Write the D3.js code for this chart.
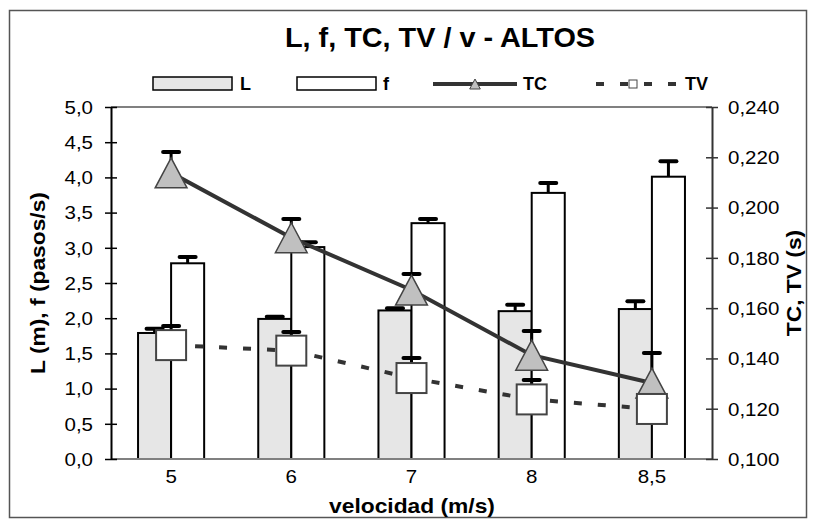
<!DOCTYPE html>
<html><head><meta charset="utf-8">
<script src="https://cdn.jsdelivr.net/npm/d3@7"></script>
<style>body{margin:0;background:#fff} text{font-family:"Liberation Sans",Arial,sans-serif}</style>
</head><body><svg id="c" width="813" height="527"></svg>
<script>
const categories = ["5", "6", "7", "8", "8,5"];
const seriesL = [1.79, 1.99, 2.11, 2.10, 2.13];
const errL = [0.06, 0.03, 0.03, 0.09, 0.11];
const seriesF = [2.78, 3.01, 3.35, 3.78, 4.01];
const errF = [0.09, 0.07, 0.06, 0.14, 0.22];
const seriesTC = [0.2138, 0.1880, 0.1672, 0.1413, 0.1302];
const errTC = [0.0083, 0.0075, 0.0064, 0.0096, 0.0120];
const seriesTV = [0.1453, 0.1431, 0.1322, 0.1237, 0.1199];
const errTV = [0.0076, 0.0074, 0.0080, 0.0077, 0.0080];
const leftTicks = [0, 0.5, 1, 1.5, 2, 2.5, 3, 3.5, 4, 4.5, 5];
const rightTicks = [0.10, 0.12, 0.14, 0.16, 0.18, 0.20, 0.22, 0.24];
const title = "L, f, TC, TV / v - ALTOS";
const xTitle = "velocidad (m/s)";
const yLeftTitle = "L (m), f (pasos/s)";
const yRightTitle = "TC, TV (s)";

const svg = d3.select("#c");
const X0 = 111, X1 = 712, Y0 = 459, Y1 = 107;
const SX = 1.14;

const x = d3.scaleBand().domain(categories).range([X0, X1]).paddingInner(0.45).paddingOuter(0.225);
const xs = d3.scaleBand().domain(["L", "f"]).range([0, x.bandwidth()]);
const yL = d3.scaleLinear().domain([0, 5]).range([Y0, Y1]);
const yR = d3.scaleLinear().domain([0.10, 0.24]).range([Y0, Y1]);
const cx = c => x(c) + x.bandwidth() / 2;

// outer border
svg.append("rect").attr("x", 9.5).attr("y", 10.5).attr("width", 797).attr("height", 507)
  .attr("fill", "none").attr("stroke", "#555").attr("stroke-width", 1.5);

// title
svg.append("text").attr("transform", "translate(440,47) scale(1.03,1)")
  .attr("text-anchor", "middle").attr("font-size", 28).attr("font-weight", "bold").text(title);

// plot top line
svg.append("line").attr("x1", X0).attr("x2", X1).attr("y1", Y1).attr("y2", Y1)
  .attr("stroke", "#808080").attr("stroke-width", 2);

// bars
const barData = [{k: "L", v: seriesL, e: errL, fill: "#e6e6e6"}, {k: "f", v: seriesF, e: errF, fill: "#ffffff"}];
barData.forEach(s => {
  svg.append("g").selectAll("rect").data(categories).join("rect")
    .attr("x", c => x(c) + xs(s.k)).attr("width", xs.bandwidth())
    .attr("y", (c, i) => yL(s.v[i])).attr("height", (c, i) => Y0 - yL(s.v[i]))
    .attr("fill", s.fill).attr("stroke", "#000").attr("stroke-width", 2);
});
function errBar(g, xp, yv, ye) {
  g.append("line").attr("x1", xp).attr("x2", xp).attr("y1", yv).attr("y2", ye)
    .attr("stroke", "#000").attr("stroke-width", 3);
  g.append("line").attr("x1", xp - 8).attr("x2", xp + 8).attr("y1", ye).attr("y2", ye)
    .attr("stroke", "#000").attr("stroke-width", 4).attr("stroke-linecap", "round");
}
const ge = svg.append("g");
barData.forEach(s => {
  categories.forEach((c, i) => {
    const xp = x(c) + xs(s.k) + xs.bandwidth() / 2;
    errBar(ge, xp, yL(s.v[i]), yL(s.v[i] + s.e[i]));
  });
});

// bottom axis line
svg.append("line").attr("x1", X0).attr("x2", X1).attr("y1", Y0).attr("y2", Y0)
  .attr("stroke", "#808080").attr("stroke-width", 2);

// lines
const lineTV = d3.line().x((d, i) => cx(categories[i])).y(d => yR(d));
svg.append("path").attr("d", lineTV(seriesTV)).attr("fill", "none")
  .attr("stroke", "#333").attr("stroke-width", 4).attr("stroke-dasharray", "8,16");
svg.append("path").attr("d", lineTV(seriesTC)).attr("fill", "none")
  .attr("stroke", "#333").attr("stroke-width", 4);

// line error bars
const gle = svg.append("g");
categories.forEach((c, i) => {
  errBar(gle, cx(c), yR(seriesTV[i]), yR(seriesTV[i] + errTV[i]));
  errBar(gle, cx(c), yR(seriesTC[i]), yR(seriesTC[i] + errTC[i]));
});

// markers
const tri = (s) => `M0,${-s * 0.5}L${s * 0.53},${s * 0.5}L${-s * 0.53},${s * 0.5}Z`;
svg.append("g").selectAll("path").data(seriesTC).join("path")
  .attr("transform", (d, i) => `translate(${cx(categories[i])},${yR(d)})`)
  .attr("d", tri(30)).attr("fill", "#c0c0c0").attr("stroke", "#444").attr("stroke-width", 1.5);
svg.append("g").selectAll("rect").data(seriesTV).join("rect")
  .attr("x", (d, i) => cx(categories[i]) - 15).attr("y", d => yR(d) - 15)
  .attr("width", 30).attr("height", 30)
  .attr("fill", "#fff").attr("stroke", "#444").attr("stroke-width", 2);

// axes
const fmtL = d => d3.format(".1f")(d).replace(".", ",");
const fmtR = d => d3.format(".3f")(d).replace(".", ",");
const axL = svg.append("g").attr("transform", `translate(${X0},0)`)
  .call(d3.axisLeft(yL).tickValues(leftTicks).tickFormat(fmtL).tickSizeOuter(0));
axL.select(".domain").attr("stroke", "#000").attr("stroke-width", 2);
axL.selectAll(".tick line").attr("x1", -6).attr("x2", 6).attr("stroke", "#000").attr("stroke-width", 1.5);
axL.selectAll(".tick text").attr("x", -18 / SX).attr("dy", "0.35em")
  .attr("transform", `scale(${SX},1)`).attr("font-size", 18).attr("fill", "#000");

const axR = svg.append("g").attr("transform", `translate(${X1},0)`)
  .call(d3.axisRight(yR).tickValues(rightTicks).tickFormat(fmtR).tickSizeOuter(0));
axR.select(".domain").attr("stroke", "#333").attr("stroke-width", 2);
axR.selectAll(".tick line").attr("x1", -6).attr("x2", 6).attr("stroke", "#333").attr("stroke-width", 1.5);
axR.selectAll(".tick text").attr("x", 16 / SX).attr("dy", "0.35em")
  .attr("transform", `scale(${SX},1)`).attr("font-size", 18).attr("fill", "#000");

const axB = svg.append("g").attr("transform", `translate(0,${Y0})`)
  .call(d3.axisBottom(x).tickSize(0));
axB.select(".domain").remove();
axB.selectAll(".tick text").attr("y", 24).attr("dy", 0)
  .attr("transform", `scale(${SX},1)`).attr("font-size", 18).attr("fill", "#000");

// axis titles
svg.append("text").attr("transform", `translate(412,513) scale(${SX},1)`)
  .attr("text-anchor", "middle").attr("font-size", 20).attr("font-weight", "bold").text(xTitle);
svg.append("text").attr("transform", `translate(45,283) rotate(-90) scale(${SX},1)`)
  .attr("text-anchor", "middle").attr("font-size", 20).attr("font-weight", "bold").text(yLeftTitle);
svg.append("text").attr("transform", `translate(801,283) rotate(-90) scale(${SX},1)`)
  .attr("text-anchor", "middle").attr("font-size", 20).attr("font-weight", "bold").text(yRightTitle);

// legend
const lg = svg.append("g");
lg.append("rect").attr("x", 153).attr("y", 77).attr("width", 79).attr("height", 13)
  .attr("fill", "#e6e6e6").attr("stroke", "#000").attr("stroke-width", 1.5);
lg.append("text").attr("x", 240).attr("y", 90).attr("font-size", 18).attr("font-weight", "bold").text("L");
lg.append("rect").attr("x", 297).attr("y", 77).attr("width", 79).attr("height", 13)
  .attr("fill", "#fff").attr("stroke", "#000").attr("stroke-width", 1.5);
lg.append("text").attr("x", 383).attr("y", 90).attr("font-size", 18).attr("font-weight", "bold").text("f");
lg.append("line").attr("x1", 433).attr("x2", 517).attr("y1", 84).attr("y2", 84)
  .attr("stroke", "#333").attr("stroke-width", 4);
lg.append("path").attr("transform", "translate(475,84)").attr("d", tri(10))
  .attr("fill", "#c0c0c0").attr("stroke", "#444").attr("stroke-width", 1);
lg.append("text").attr("x", 523).attr("y", 90).attr("font-size", 18).attr("font-weight", "bold").text("TC");
lg.append("line").attr("x1", 596).attr("x2", 680).attr("y1", 84).attr("y2", 84)
  .attr("stroke", "#333").attr("stroke-width", 4).attr("stroke-dasharray", "8,16");
lg.append("rect").attr("x", 629).attr("y", 80).attr("width", 8).attr("height", 8)
  .attr("fill", "#fff").attr("stroke", "#444").attr("stroke-width", 1);
lg.append("text").attr("x", 685).attr("y", 90).attr("font-size", 18).attr("font-weight", "bold").text("TV");
</script></body></html>
